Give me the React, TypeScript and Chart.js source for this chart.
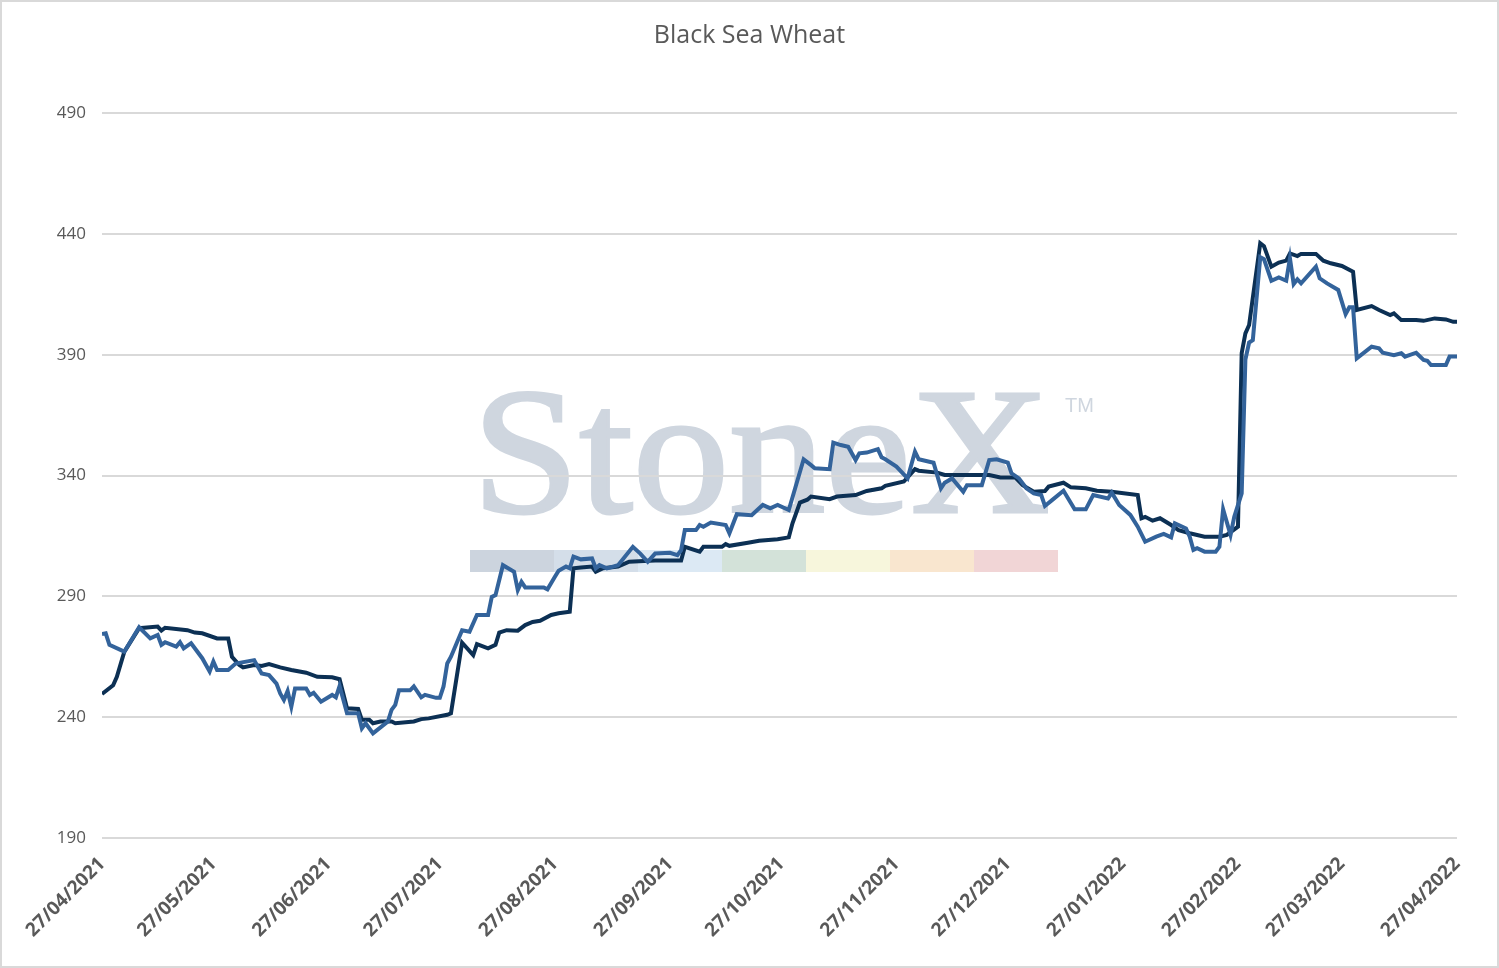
import { useRef, useEffect } from "react";
import Chart from "chart.js/auto";
import type { Chart as ChartJS, Plugin } from "chart.js";

// days since 27/04/2021 and prices
const tickLabels = [
  "27/04/2021", "27/05/2021", "27/06/2021", "27/07/2021", "27/08/2021", "27/09/2021", "27/10/2021",
  "27/11/2021", "27/12/2021", "27/01/2022", "27/02/2022", "27/03/2022", "27/04/2022",
];

const darkDays = [
  0, 3, 4, 6, 10, 15, 16, 17, 23, 25, 27, 31, 34, 35, 37, 38, 41, 43, 45, 48, 51, 55, 58, 62, 64, 66,
  69, 70, 72, 73, 75, 78, 79, 84, 86, 88, 93, 94, 97, 100, 101, 104, 106, 107, 109, 112, 114, 116, 118,
  121, 123, 126, 127, 129, 132, 133, 135, 139, 142, 146, 149, 156, 157, 161, 162, 167, 168, 169, 174,
  177, 182, 185, 186, 188, 190, 191, 196, 198, 203, 206, 210, 211, 216, 219, 220, 225, 227, 239, 242,
  246, 248, 251, 254, 255, 259, 261, 265, 268, 272, 279, 280, 281, 283, 285, 288, 290, 293, 297, 301,
  303, 306, 307, 308, 309, 312, 313, 315, 317, 319, 320, 322, 323, 327, 329, 331, 334, 337, 338, 342,
  344, 347, 348, 350, 354, 356, 359, 362, 364, 365,
];
const darkValues = [
  249.6, 253.2, 256.7, 267, 276.8, 277.5, 275.8, 277, 276, 275, 274.7, 272.6, 272.6, 265, 261.6, 260.6,
  261.6, 261.2, 262, 260.6, 259.5, 258.4, 256.7, 256.5, 255.7, 243.7, 243.4, 238.9, 238.9, 237.5, 238.2,
  238.2, 237.5, 238.2, 239.2, 239.5, 241, 241.6, 270.8, 265.7, 270.2, 268.5, 269.9, 275, 276, 275.8,
  278.1, 279.4, 279.9, 282.3, 283, 283.6, 301.6, 301.9, 302.3, 300.2, 301.6, 302.3, 304.3, 304.6, 304.8,
  304.8, 310.5, 308.5, 310.5, 310.5, 311.6, 310.9, 312.2, 313, 313.6, 314.4, 320.2, 328.8, 330, 331.3,
  330.2, 331.3, 331.9, 333.6, 334.7, 335.7, 337.5, 342.6, 342, 341.2, 340.2, 340.2, 339.2, 339.2, 336,
  333.3, 333.6, 335.4, 337, 335.1, 334.7, 333.7, 333.3, 331.9, 322.3, 322.9, 321.3, 322.3, 319.5, 317.4,
  316.1, 314.7, 314.7, 315.4, 318.8, 390.6, 398.8, 402.3, 436.1, 434.9, 426.4, 428.1, 428.9, 431.9,
  430.8, 431.7, 431.7, 428.9, 427.8, 426.7, 424.3, 408.5, 410.1, 408.5, 406.4, 407.1, 404.3, 404.3, 404,
  405, 404.6, 403.6, 403.6,
];

const lightDays = [
  0, 1, 2, 6, 10, 13, 15, 16, 17, 20, 21, 22, 24, 27, 29, 30, 31, 34, 36, 41, 43, 45, 47, 48, 49, 50,
  51, 52, 55, 56, 57, 59, 62, 63, 64, 66, 69, 70, 71, 73, 77, 78, 79, 80, 83, 84, 86, 87, 90, 91, 92,
  93, 94, 97, 99, 101, 104, 105, 106, 108, 111, 112, 113, 114, 119, 120, 122, 123, 125, 126, 127, 129,
  132, 133, 134, 136, 139, 143, 145, 147, 149, 153, 155, 156, 157, 160, 161, 162, 164, 168, 169, 171,
  175, 176, 178, 180, 182, 185, 189, 191, 192, 196, 197, 199, 201, 203, 204, 206, 209, 210, 211, 214,
  217, 219, 220, 224, 226, 227, 229, 232, 233, 237, 239, 241, 244, 245, 247, 249, 251, 253, 254, 256,
  259, 262, 265, 267, 271, 272, 274, 277, 279, 281, 284, 286, 288, 289, 292, 293, 294, 295, 297, 300,
  301, 302, 304, 305, 307, 308, 309, 310, 312, 313, 315, 317, 319, 320, 321, 322, 323, 327, 328, 330,
  333, 335, 336, 337, 338, 342, 344, 345, 348, 350, 351, 354, 356, 357, 358, 362, 363, 365,
];
const lightValues = [
  274.4, 274.7, 269.9, 267.1, 277.2, 272.6, 274, 269.9, 271, 269.2, 271, 268.5, 270.6, 264.4, 258.9,
  263, 259.5, 259.5, 262.2, 263.6, 258.1, 257.4, 253.9, 249.8, 247.1, 250.8, 244.3, 251.9, 251.9, 249.2,
  250.1, 246.4, 249.2, 248.2, 252.9, 241.6, 241.6, 235.4, 237.5, 233.3, 238.2, 243, 245.1, 251.1, 251.1,
  252.7, 248.2, 249.2, 248, 248, 252.7, 262.2, 265, 276, 275.4, 282.3, 282.3, 289.8, 290.5, 302.9, 300.2,
  292.6, 296, 293.7, 293.7, 292.9, 298.1, 300.6, 302.3, 301.6, 306.4, 305.3, 305.7, 301.6, 302.9, 301.6,
  302.9, 310.5, 307.7, 304.3, 307.7, 308, 307, 309.1, 317.4, 317.4, 319.5, 318.8, 320.5, 319.5, 316.1,
  324, 323.6, 325, 327.8, 326.4, 327.8, 325.7, 346.7, 344.3, 343, 342.6, 353.6, 352.6, 351.9, 346.4,
  349.2, 349.5, 350.9, 347.5, 346.7, 343.7, 338.8, 349.9, 346.7, 345.3, 334.7, 337, 338.8, 333.3, 336,
  336, 346.4, 346.7, 345.3, 340.9, 338.8, 334.7, 332.6, 331.9, 327.4, 329.9, 333.7, 326, 326, 331.9,
  330.5, 332.9, 327.8, 323.7, 318.8, 312.6, 314.7, 315.8, 314.4, 320.2, 318.1, 314.7, 309.2, 309.9,
  308.5, 308.5, 310.5, 326, 315.4, 322.9, 332.6, 388, 395, 396, 430.3, 429.5, 420.6, 422, 420.6, 429.9,
  419.2, 421.2, 419.5, 426.4, 421.6, 419.5, 416.8, 406.8, 409.6, 409.6, 388.5, 393.3, 392.6, 390.8, 389.8,
  390.6, 389.2, 390.8, 387.8, 387.5, 385.7, 385.7, 389.2, 389.2,
];

const watermarkColors = ["#ccd4de", "#d4dee9", "#dce9f4", "#d3e2d9", "#f7f6dc", "#f9e6cf", "#f1d5d6"];

const startUtc = Date.UTC(2021, 3, 27);
const dayOf = (label: string) => {
  const [d, m, y] = label.split("/").map(Number);
  return Math.round((Date.UTC(y, m - 1, d) - startUtc) / 86400000);
};
const tickDays = tickLabels.map(dayOf);

const toPoints = (days: number[], values: number[]) => days.map((x, i) => ({ x, y: values[i] }));

const watermark: Plugin<"line"> = {
  id: "watermark",
  beforeDraw(chart) {
    const { ctx } = chart;
    ctx.save();
    ctx.fillStyle = "#cfd6df";
    ctx.strokeStyle = "#cfd6df";
    ctx.lineWidth = 3;
    ctx.font = "180px 'Liberation Serif'";
    ctx.textBaseline = "alphabetic";
    ctx.textAlign = "left";
    const textW = ctx.measureText("StoneX").width;
    ctx.save();
    ctx.translate(470, 510);
    ctx.scale(578 / textW, 1);
    ctx.fillText("StoneX", 0, 0);
    ctx.strokeText("StoneX", 0, 0);
    ctx.restore();
    ctx.font = "20px 'Liberation Sans'";
    ctx.fillText("TM", 1063, 410);
    const w = 84;
    watermarkColors.forEach((c, i) => {
      ctx.fillStyle = c;
      ctx.fillRect(468 + i * w, 548, w, 22);
    });
    ctx.restore();
  },
};

function BlackSeaChart() {
  const canvasRef = useRef<HTMLCanvasElement | null>(null);
  const chartRef = useRef<ChartJS | null>(null);

  useEffect(() => {
    if (!canvasRef.current) return;
    if (chartRef.current) chartRef.current.destroy();

    chartRef.current = new Chart(canvasRef.current, {
      type: "line",
      data: {
        datasets: [
          {
            label: "Light",
            data: toPoints(lightDays, lightValues),
            borderColor: "#33639b",
            borderWidth: 4,
            pointRadius: 0,
            tension: 0,
          },
          {
            label: "Dark",
            data: toPoints(darkDays, darkValues),
            borderColor: "#0c3054",
            borderWidth: 4,
            pointRadius: 0,
            tension: 0,
          },
        ],
      },
      options: {
        animation: false,
        responsive: true,
        maintainAspectRatio: false,
        layout: { padding: 0 },
        plugins: {
          legend: { display: false },
          tooltip: { enabled: false },
          title: {
            display: true,
            text: "Black Sea Wheat",
            color: "#595959",
            font: { family: "'Open Sans'", size: 25, weight: "normal" },
            padding: { top: 19, bottom: 62 },
          },
        },
        scales: {
          x: {
            type: "linear",
            min: 0,
            max: 365,
            grid: { display: false, drawTicks: false },
            border: { display: false },
            afterBuildTicks: (scale) => {
              scale.ticks = tickDays.map((value) => ({ value }));
            },
            afterFit: (scale) => {
              scale.height = 128;
            },
            ticks: {
              autoSkip: false,
              maxRotation: 45,
              minRotation: 45,
              padding: 15,
              color: "#595959",
              font: { family: "'Open Sans'", size: 19, weight: "bold" },
              callback: (value) => tickLabels[tickDays.indexOf(Number(value))] ?? "",
            },
          },
          y: {
            min: 190,
            max: 490,
            grid: { color: "#d9d9d9", lineWidth: 2, drawTicks: false },
            border: { display: false },
            afterFit: (scale) => {
              scale.width = 100;
            },
            ticks: {
              stepSize: 50,
              padding: 16,
              color: "#595959",
              font: { family: "'Open Sans'", size: 17 },
            },
          },
          // empty right-hand gutter so the title stays centred on the whole canvas
          gutter: {
            type: "linear",
            position: "right",
            min: 190,
            max: 490,
            grid: { display: false, drawTicks: false },
            border: { display: false },
            ticks: { display: false },
            afterFit: (scale) => {
              scale.width = 40;
            },
          },
        },
      },
      plugins: [watermark],
    });

    return () => chartRef.current?.destroy();
  }, []);

  return <canvas ref={canvasRef} />;
}

export default function App() {
  return (
    <div
      style={{
        position: "fixed",
        left: 0,
        top: 0,
        width: 1499,
        height: 968,
        boxSizing: "border-box",
        border: "2px solid #d9d9d9",
        background: "#ffffff",
      }}
    >
      <BlackSeaChart />
    </div>
  );
}
